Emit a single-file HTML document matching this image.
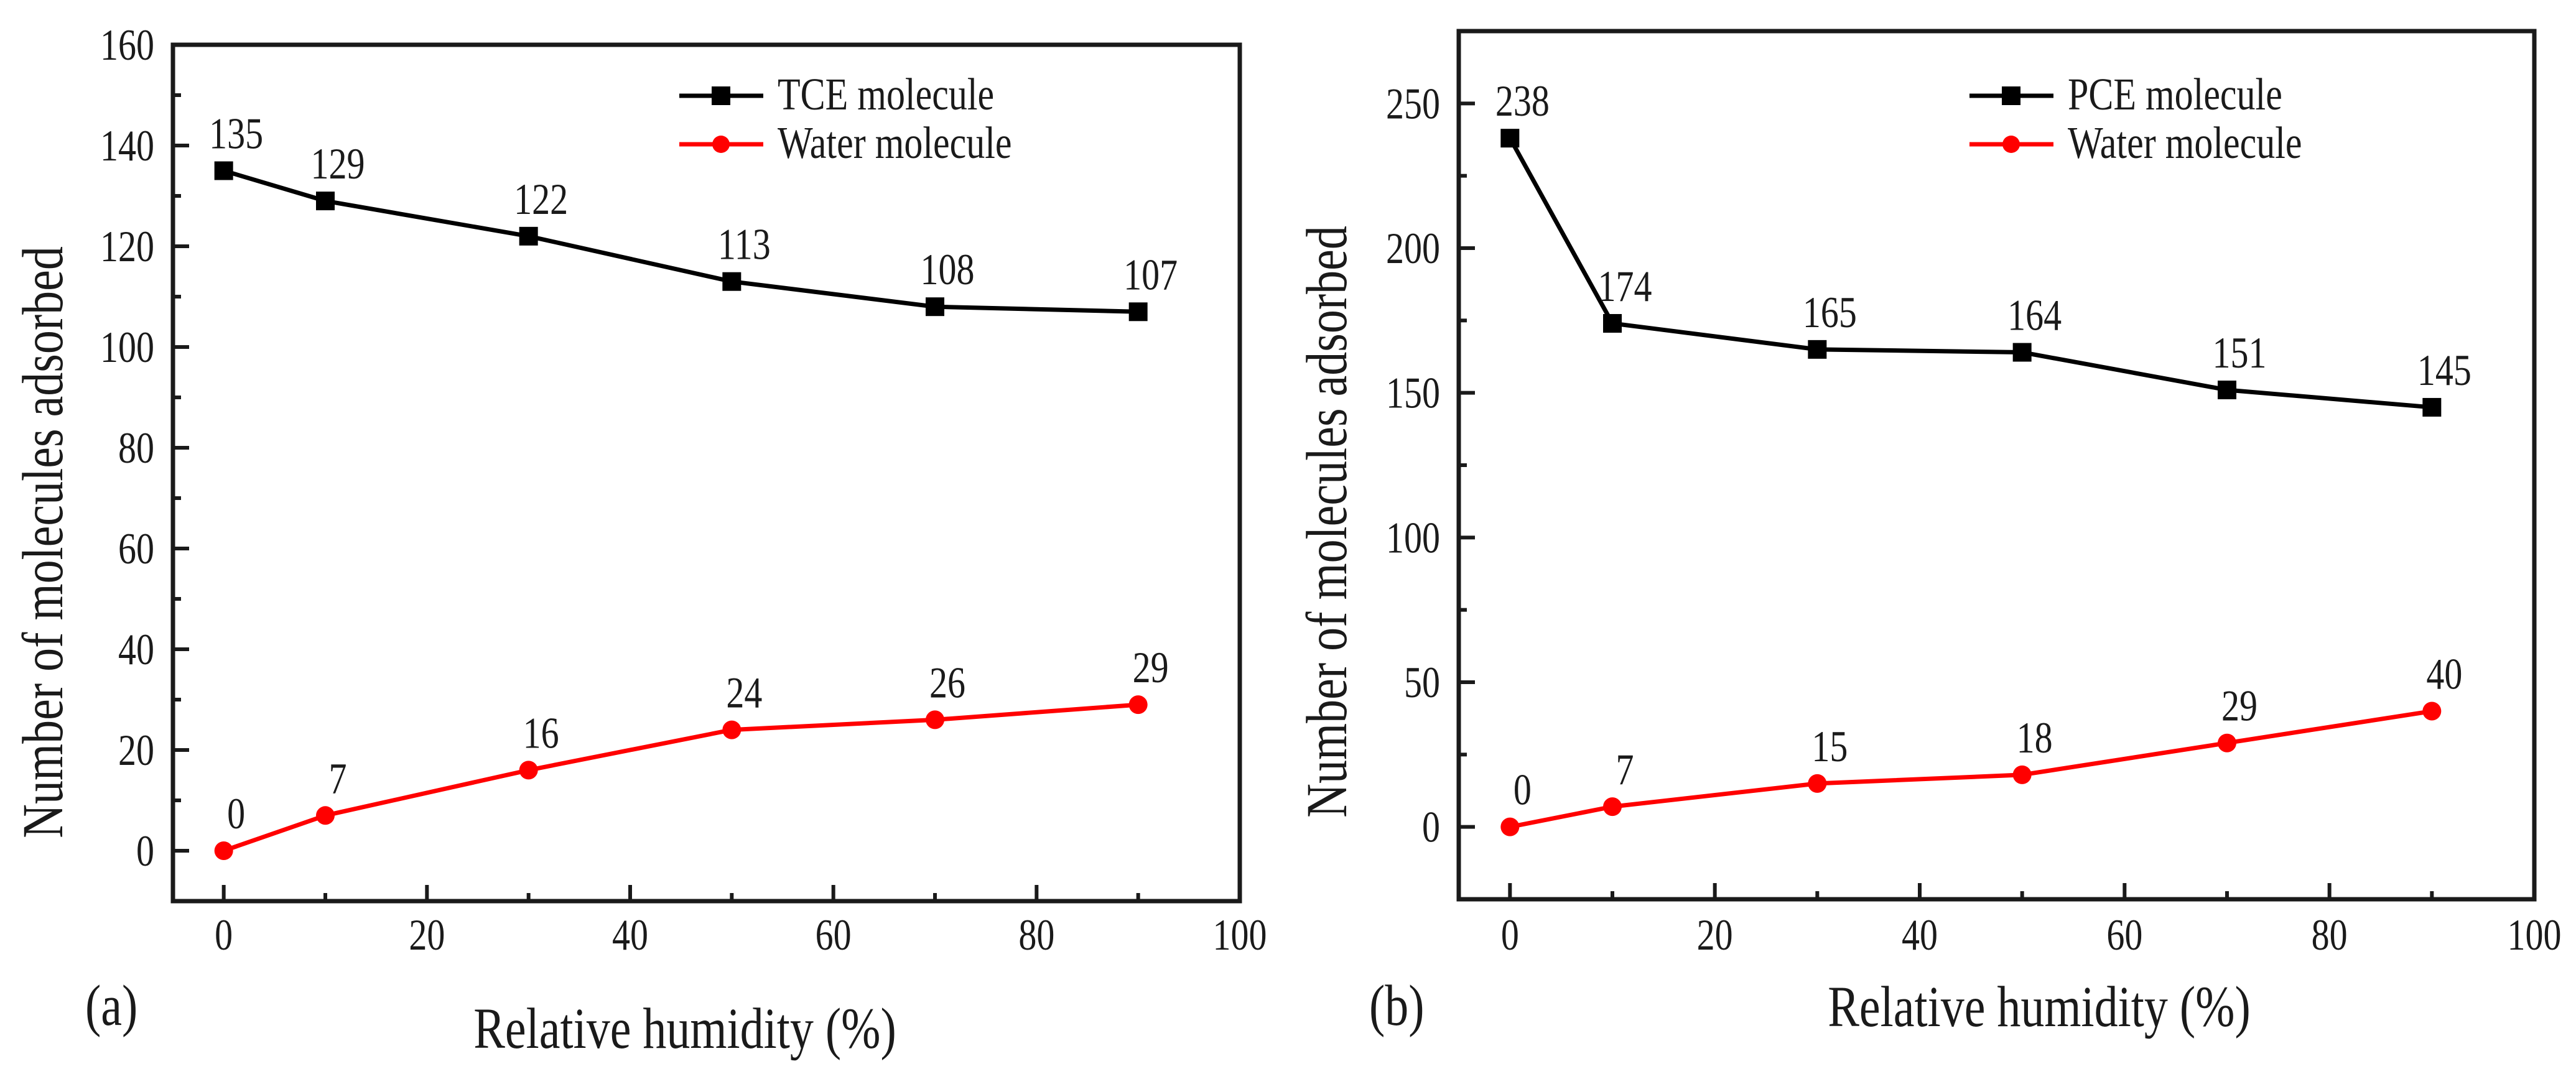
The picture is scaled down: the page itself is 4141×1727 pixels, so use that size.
<!DOCTYPE html>
<html><head><meta charset="utf-8"><style>
html,body{margin:0;padding:0;background:#fff;}
svg{display:block;font-family:"Liberation Serif","Times New Roman",serif;}
</style></head><body>
<svg id="chart" width="4141" height="1727" viewBox="0 0 4141 1727" xmlns="http://www.w3.org/2000/svg">
<rect width="4141" height="1727" fill="#fff"/>
</svg>
<script>
const humidity = [0, 10, 30, 50, 70, 90];
const tceValues = [135, 129, 122, 113, 108, 107];
const waterA = [0, 7, 16, 24, 26, 29];
const pceValues = [238, 174, 165, 164, 151, 145];
const waterB = [0, 7, 15, 18, 29, 40];
const xTicks = [0, 20, 40, 60, 80, 100];
const yTicksA = [0, 20, 40, 60, 80, 100, 120, 140, 160];
const yTicksB = [0, 50, 100, 150, 200, 250];

const NS = "http://www.w3.org/2000/svg";
const svg = document.getElementById('chart');
const SY = 1.22;
function mk(tag, attrs, parent, text){
  const e = document.createElementNS(NS, tag);
  for (const k in attrs) e.setAttribute(k, attrs[k]);
  if (text !== undefined) e.textContent = text;
  (parent || svg).appendChild(e);
  return e;
}
function txt(x, y, size, anchor, str, parent, rot){
  const tr = `translate(${x},${y})` + (rot ? ' rotate(-90)' : '') + ` scale(1,${SY})`;
  return mk('text', {x:0, y:0, 'font-size':size, 'text-anchor':anchor, fill:'#1a1a1a', transform:tr}, parent, str);
}

function panel(cfg){
  const g = mk('g', {});
  
  
  const L=cfg.left, R=cfg.right, T=cfg.top, B=cfg.bottom;
  const x = v => L + (v - cfg.xmin) / (cfg.xmax - cfg.xmin) * (R - L);
  const y = v => B - (v - cfg.ymin) / (cfg.ymax - cfg.ymin) * (B - T);
  for (let v = 0; v <= 100; v += 10){
    const len = v % 20 === 0 ? 26 : 13;
    const t = mk('line', {x1:x(v), x2:x(v), y1:B, y2:B-len, stroke:'#1a1a1a','stroke-width':6}, g);
    
    
  }
  xTicks.forEach(v => {
    const t = txt(x(v), 1527, 58, 'middle', String(v), g);
    
    
  });
  for (let v = 0; v <= cfg.ymax; v += cfg.minor){
    const len = Math.abs(v % cfg.major) < 1e-9 ? 26 : 13;
    const t = mk('line', {x1:L, x2:L+len, y1:y(v), y2:y(v), stroke:'#1a1a1a','stroke-width':6}, g);
    
    
  }
  cfg.yTicks.forEach(v => {
    const t = txt(L-30, y(v)+24, 58, 'end', String(v), g);
    
    
  });
  const frame = mk('rect', {x:L, y:T, width:R-L, height:B-T, fill:'none', stroke:'#1a1a1a','stroke-width':7}, g);
  
  

  function series(vals, color, shape, sname){
    const pts = humidity.map((h,i)=>x(h)+','+y(vals[i])).join(' ');
    const pl = mk('polyline', {points:pts, fill:'none', stroke:color, 'stroke-width':7}, g);
    
    
    humidity.forEach((h,i)=>{
      let m;
      if (shape === 'square') m = mk('rect', {x:x(h)-15, y:y(vals[i])-15, width:30, height:30, fill:color}, g);
      else m = mk('circle', {cx:x(h), cy:y(vals[i]), r:15, fill:color}, g);
      
      
      const lb = txt(x(h)+20, y(vals[i])-36, 58, 'middle', String(vals[i]), g);
      
      
    });
  }
  series(cfg.s1, '#000', 'square', cfg.s1name);
  series(cfg.s2, '#ff0000', 'circle', 'water');

  const lg = mk('g', {}, g);
  
  
  [[cfg.leg1, '#000', 'square', 154],[ 'Water molecule', '#ff0000', 'circle', 232]].forEach(([t0,c,s,ly])=>{
    mk('line', {x1:cfg.legX, x2:cfg.legX+135, y1:ly, y2:ly, stroke:c, 'stroke-width':7}, lg);
    if (s==='square') mk('rect', {x:cfg.legX+52, y:ly-15, width:30, height:30, fill:c}, lg);
    else mk('circle', {cx:cfg.legX+67, cy:ly, r:14, fill:c}, lg);
    const t = txt(cfg.legX+158, ly+22, 60, 'start', t0, lg);
    
    
  });

  const xt = txt(cfg.xtX, cfg.xtY, 76, 'middle', 'Relative humidity (%)', g);
  
  
  const yt = txt(cfg.ytX, cfg.ytY, 76, 'middle', 'Number of molecules adsorbed', g, true);
  
  
  const pl = txt(cfg.plX, 1648, 76, 'start', cfg.plabel, g);
  
  
}

panel({name:'panel-a-tce', left:278, right:1993, top:72, bottom:1449, xmin:-5, xmax:100, ymin:-10, ymax:160,
  major:20, minor:10, yTicks:yTicksA, s1:tceValues, s2:waterA, s1name:'tce', leg1:'TCE molecule', legX:1092,
  xtX:1101, xtY:1685, ytX:100, ytY:872, plX:137, plabel:'(a)'});
panel({name:'panel-b-pce', left:2345, right:4074, top:50, bottom:1446, xmin:-5, xmax:100, ymin:-25, ymax:275,
  major:50, minor:25, yTicks:yTicksB, s1:pceValues, s2:waterB, s1name:'pce', leg1:'PCE molecule', legX:3166,
  xtX:3278, xtY:1650, ytX:2164, ytY:839, plX:2201, plabel:'(b)'});
</script>
</body></html>
